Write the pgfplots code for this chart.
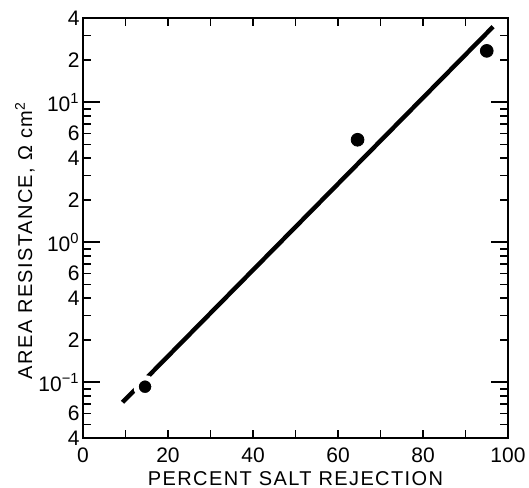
\documentclass[border=0pt]{standalone}
\usepackage{pgfplots}
\pgfplotsset{compat=1.18}
\usepackage{fontspec}
\setmainfont{Liberation Sans}

\begin{document}
\begin{tikzpicture}
\begin{axis}[
    width=212.5pt, height=210pt, scale only axis,
    ymode=log,
    xmin=0, xmax=100,
    ymin=0.04, ymax=40,
    axis line style={line width=1pt},
    tick style={line width=0.8pt, black},
    major tick length=4pt,
    minor tick length=4pt,
    xtick={0,20,40,60,80,100},
    minor xtick={10,30,50,70,90},
    ytick={0.04,0.06,0.1,0.2,0.4,0.6,1,2,4,6,10,20,40},
    yticklabels={4,6,10\textsuperscript{−1},2,4,6,10\textsuperscript{0},2,4,6,10\textsuperscript{1},2,4},
    minor ytick={0.05,0.07,0.08,0.09,0.3,0.5,0.7,0.8,0.9,3,5,7,8,9,30},
    extra y ticks={0.1,1,10},
    extra y tick labels={},
    extra y tick style={major tick length=8.5pt},
    /pgf/number format/assume math mode=true,
    ticklabel style={font=\fontsize{10.5}{12}\selectfont},
    xticklabel style={yshift=-1.5pt},
    yticklabel style={inner sep=1.5pt},
    xlabel={PERCENT SALT REJECTION},
    ylabel={AREA RESISTANCE, Ω cm\textsuperscript{2}},
    label style={font=\fontsize{10}{12}\selectfont\addfontfeatures{LetterSpace=7}, inner sep=0pt},
    xlabel style={at={(axis description cs:0.5,-0.079)}, anchor=north},
    ylabel style={at={(axis description cs:-0.137,0.47)}, anchor=center},
]
\coordinate (sw) at (rel axis cs:0,0);
\addplot[black, line width=2.2pt] coordinates {(9.3,0.072) (96.5,34.7)};
\addplot[only marks, mark=*, mark size=4.5pt,
    mark options={fill=black, draw=white, line width=2.6pt}]
    coordinates {(14.6,0.093)};
\addplot[only marks, mark=*, mark size=3.2pt, mark options={fill=black, draw=black}]
    coordinates {(64.6,5.4) (95,23.3)};
\end{axis}
\pgfresetboundingbox
\path[use as bounding box] (sw) ++(-41.5pt,-24.5pt) rectangle ++(264.5pt,243.5pt);
\end{tikzpicture}
\end{document}
